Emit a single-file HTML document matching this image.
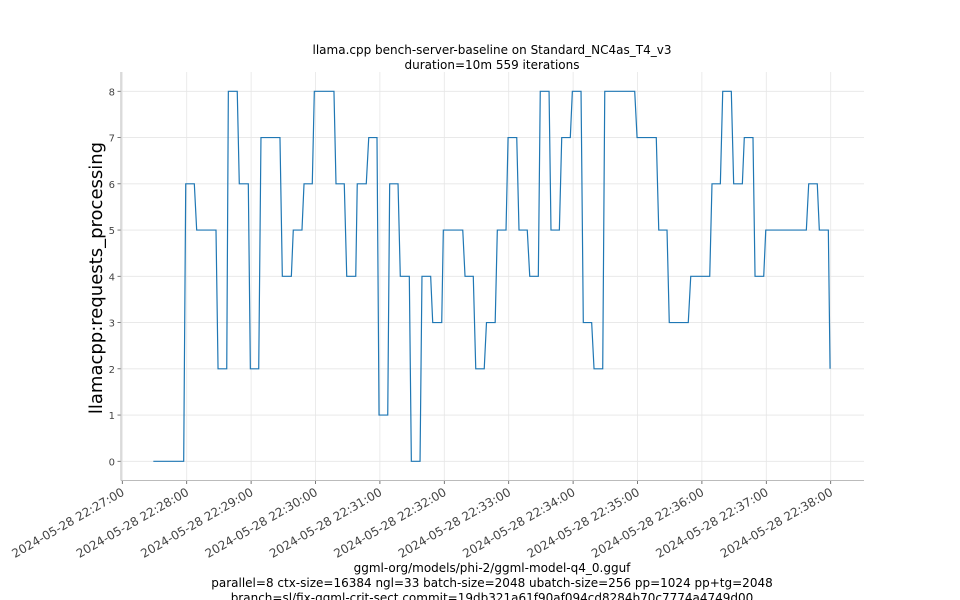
<!DOCTYPE html>
<html><head><meta charset="utf-8"><style>
body{margin:0;background:#fff}
svg{display:block;font-family:"DejaVu Sans","Liberation Sans",sans-serif}
</style></head><body>
<svg id="c" width="960" height="600" viewBox="0 0 960 600">
<text x="492" y="54" font-size="12" text-anchor="middle" fill="#000">llama.cpp bench-server-baseline on Standard_NC4as_T4_v3</text>
<text x="492" y="69" font-size="12" text-anchor="middle" fill="#000">duration=10m 559 iterations</text>
<text transform="translate(102,278) rotate(-90)" font-size="18" text-anchor="middle" fill="#000">llamacpp:requests_processing</text>
<text x="492" y="572" font-size="12" text-anchor="middle">ggml-org/models/phi-2/ggml-model-q4_0.gguf</text>
<text x="492" y="587" font-size="12" text-anchor="middle">parallel=8 ctx-size=16384 ngl=33 batch-size=2048 ubatch-size=256 pp=1024 pp+tg=2048</text>
<text x="492" y="602" font-size="12" text-anchor="middle">branch=sl/fix-ggml-crit-sect commit=19db321a61f90af094cd8284b70c7774a4749d00</text>
<g id="grid"></g><g id="axes"></g><g id="series"></g>
</svg>
<script>
// seconds since 22:27:00
const times=[28.9,57.2,59.1,67.1,69.3,87.3,89.2,97.3,98.8,107.1,109.0,117.4,119.3,127.1,129.2,146.9,149.1,157.5,159.3,167.4,169.3,177.0,178.9,197.2,199.1,206.8,209.1,217.5,218.9,227.3,229.6,237.3,239.2,247.3,249.1,256.9,259.0,267.4,269.3,277.4,279.2,287.3,289.2,297.6,299.1,317.2,319.3,327.0,329.3,337.2,339.3,347.4,349.4,357.5,359.4,367.5,369.6,377.3,379.6,387.6,389.4,397.6,399.4,407.2,409.4,417.4,419.3,427.4,429.5,437.3,439.5,447.6,449.5,477.4,479.6,497.5,499.8,507.5,509.6,527.3,529.6,547.3,549.4,557.2,559.4,567.4,569.6,577.7,579.5,587.6,589.5,597.6,599.5,637.3,639.5,647.5,649.4,657.8,659.4];
const values=[0,0,6,6,5,5,2,2,8,8,6,6,2,2,7,7,4,4,5,5,6,6,8,8,6,6,4,4,6,6,7,7,1,1,6,6,4,4,0,0,4,4,3,3,5,5,4,4,2,2,3,3,5,5,7,7,5,5,4,4,8,8,5,5,7,7,8,8,3,3,2,2,8,8,7,7,5,5,3,3,4,4,6,6,8,8,6,6,7,7,4,4,5,5,6,6,5,5,2];
const yTicks=[0,1,2,3,4,5,6,7,8];
const xTickLabels=["2024-05-28 22:27:00","2024-05-28 22:28:00","2024-05-28 22:29:00","2024-05-28 22:30:00","2024-05-28 22:31:00","2024-05-28 22:32:00","2024-05-28 22:33:00","2024-05-28 22:34:00","2024-05-28 22:35:00","2024-05-28 22:36:00","2024-05-28 22:37:00","2024-05-28 22:38:00"];
const NS="http://www.w3.org/2000/svg";
const L=121,R=864,T=72,B=480.5;
const xs=t=>122.3+t*64.4/60;
const ys=v=>461.3-v*46.25;
function mk(tag,attrs,parent){const e=document.createElementNS(NS,tag);for(const k in attrs)e.setAttribute(k,attrs[k]);parent.appendChild(e);return e;}
const grid=document.getElementById('grid'),axes=document.getElementById('axes'),series=document.getElementById('series');
yTicks.forEach(v=>{
 const y=ys(v);
 const g=mk('line',{x1:L,x2:R,y1:y,y2:y,stroke:'#e6e6e6','stroke-width':0.8},grid);
 
 
 const tk=mk('line',{x1:L-3.5,x2:L,y1:y,y2:y,stroke:'#555','stroke-width':0.8},axes);
 
 
 const tx=mk('text',{x:L-6,y:y+4,'font-size':10,'text-anchor':'end',fill:'#444'},axes);
 tx.textContent=v;
 
 
});
xTickLabels.forEach((lab,i)=>{
 const x=xs(i*60);
 const g=mk('line',{x1:x,x2:x,y1:T,y2:B,stroke:'#e6e6e6','stroke-width':0.8},grid);
 
 
 const tk=mk('line',{x1:x,x2:x,y1:B,y2:B+3.5,stroke:'#555','stroke-width':0.8},axes);
 
 
 const tx=mk('text',{transform:`translate(${x+3},${B+14}) rotate(-30)`,'font-size':12,'text-anchor':'end',fill:'#444'},axes);
 tx.textContent=lab;
 
 
});
const la=mk('line',{x1:L,x2:L,y1:T,y2:B,stroke:'#bbb','stroke-width':1},axes);


const ba=mk('line',{x1:L,x2:R,y1:B,y2:B,stroke:'#bbb','stroke-width':1},axes);


const pts=times.map((t,i)=>xs(t).toFixed(2)+','+ys(values[i]).toFixed(2)).join(' ');
const pl=mk('polyline',{points:pts,fill:'none',stroke:'#1f77b4','stroke-width':1.2},series);


</script>
</body></html>
